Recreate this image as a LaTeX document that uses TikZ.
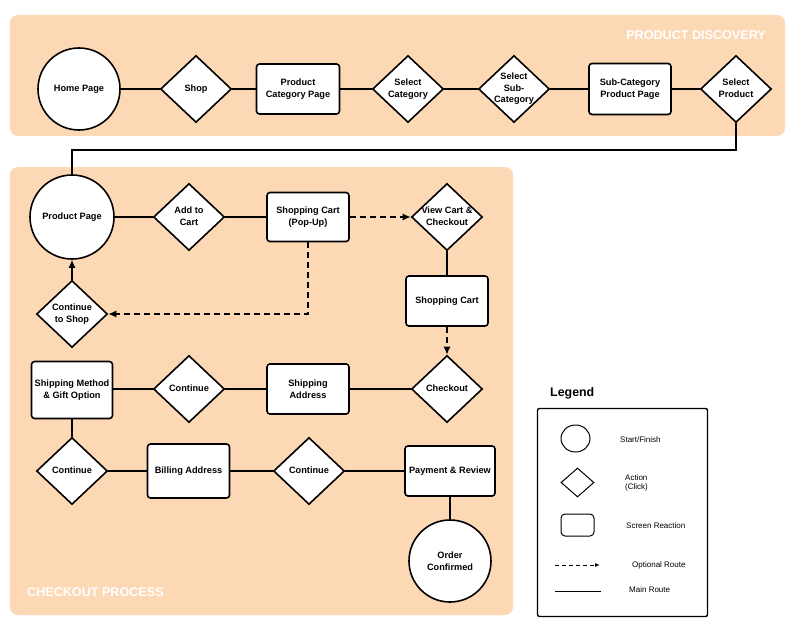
\documentclass[tikz,border=0pt]{standalone}
\usepackage{fontspec}
\setmainfont{Liberation Sans}
\usetikzlibrary{shapes.geometric,arrows.meta}
\definecolor{peach}{RGB}{253,216,181}
\newcommand\dt[1]{\makebox[0pt]{\raisebox{-0.25em}[0pt][0pt]{\begin{tabular}{@{}c@{}}#1\end{tabular}}}}
\tikzset{
  base/.style={draw, line width=1.6pt, fill=white, font=\bfseries\fontsize{9.2}{11.5}\selectfont, inner sep=0pt},
  startend/.style={base, circle, minimum size=82pt, align=center},
  act/.style={base, diamond, minimum width=71pt, minimum height=67pt},
  screen/.style={base, rectangle, rounded corners=3pt, align=center},
  mainroute/.style={line width=1.4pt},
  optroute/.style={line width=1.4pt, dash pattern=on 6pt off 4pt, -{Latex[length=8pt,width=7pt]}},
  arrowroute/.style={line width=1.4pt, -{Latex[length=8pt,width=7pt]}},
  band/.style={fill=peach, rounded corners=8pt},
  bandlabel/.style={text=white, font=\bfseries\fontsize{12.6}{14}\selectfont, inner sep=0pt},
  legshape/.style={draw, line width=1pt, inner sep=0pt},
  legtext/.style={font=\fontsize{8}{9.5}\selectfont, inner sep=0pt, align=left},
  legline/.style={line width=1pt}
}
\begin{document}
\begin{tikzpicture}[x=1pt,y=-1pt]
\useasboundingbox (0,0) rectangle (800,626);
% bands
\fill[band] (10,15) rectangle (785,136);
\fill[band] (10,167) rectangle (513,615);
\node[bandlabel, anchor=east] (pdlabel) at (766,35) {PRODUCT DISCOVERY};
\node[bandlabel, anchor=west] (cplabel) at (27,592) {CHECKOUT PROCESS};

% product discovery
\node[startend] (home) at (79,89) {Home Page};
\node[act] (shop) at (196,89) {\dt{Shop}};
\node[screen, minimum width=83pt, minimum height=50pt] (pcp) at (298,89) {Product\\Category Page};
\node[act] (selcat) at (408,89) {\dt{Select\\Category}};
\node[act] (selsub) at (514,89) {\dt{Select\\Sub-\\Category}};
\node[screen, minimum width=82pt, minimum height=51pt] (scpp) at (630,89) {Sub-Category\\Product Page};
\node[act] (selprod) at (736,89) {\dt{Select\\Product}};

% checkout
\node[startend, minimum size=84pt] (pp) at (72,217) {Product Page};
\node[act] (add) at (189,217) {\dt{Add to\\Cart}};
\node[screen, minimum width=82pt, minimum height=49pt] (spc) at (308,217) {Shopping Cart\\(Pop-Up)};
\node[act] (vcc) at (447,217) {\dt{View Cart \&\\Checkout}};
\node[screen, minimum width=82pt, minimum height=50pt] (sc) at (447,301) {Shopping Cart};
\node[act] (cts) at (72,314) {\dt{Continue\\to Shop}};
\node[act] (checkout) at (447,389) {\dt{Checkout}};
\node[screen, minimum width=82pt, minimum height=50pt] (sa) at (308,389) {Shipping\\Address};
\node[act] (cont1) at (189,389) {\dt{Continue}};
\node[screen, minimum width=81pt, minimum height=57pt] (smgo) at (72,390) {Shipping Method\\\& Gift Option};
\node[act] (cont2) at (72,471) {\dt{Continue}};
\node[screen, minimum width=82pt, minimum height=54pt] (ba) at (188.5,471) {Billing Address};
\node[act] (cont3) at (309,471) {\dt{Continue}};
\node[screen, minimum width=90pt, minimum height=50pt] (pr) at (450,471) {Payment \& Review};
\node[startend] (oc) at (450,561) {Order\\Confirmed};

% connectors top
\draw[mainroute] (home) -- (shop);
\draw[mainroute] (shop) -- (pcp);
\draw[mainroute] (pcp) -- (selcat);
\draw[mainroute] (selcat) -- (selsub);
\draw[mainroute] (selsub) -- (scpp);
\draw[mainroute] (scpp) -- (selprod);
\coordinate (turn) at (736,150);
\draw[mainroute] (selprod.south) -- (turn) -| (pp.north);

% connectors checkout
\draw[mainroute] (pp) -- (add);
\draw[mainroute] (add) -- (spc);
\draw[optroute] (spc) -- (vcc);
\draw[mainroute] (vcc) -- (sc);
\draw[optroute] (sc) -- (checkout);
\draw[optroute] (spc.south) |- (cts.east);
\draw[arrowroute] (cts.north) -- (pp.south);
\draw[mainroute] (checkout) -- (sa);
\draw[mainroute] (sa) -- (cont1);
\draw[mainroute] (cont1) -- (cont1 -| smgo.east);
\draw[mainroute] (smgo) -- (cont2);
\draw[mainroute] (cont2) -- (ba);
\draw[mainroute] (ba) -- (cont3);
\draw[mainroute] (cont3) -- (pr);
\draw[mainroute] (pr) -- (oc);

% legend
\node[anchor=west, inner sep=0pt, font=\bfseries\fontsize{12.4}{14}\selectfont] (legtitle) at (550,393) {Legend};
\node[draw, line width=1.4pt, rounded corners=2pt, minimum width=170pt, minimum height=208pt, inner sep=0pt] (legbox) at (622.5,512.5) {};
\node[legshape, ellipse, minimum width=29pt, minimum height=27pt] (lgcirc) at (575.5,438.5) {};
\node[legshape, diamond, minimum width=33pt, minimum height=29pt] (lgact) at (577.5,482.5) {};
\node[legshape, rectangle, rounded corners=4pt, minimum width=33pt, minimum height=22pt] (lgscr) at (577.5,525) {};
\coordinate (ol1) at (555,565);
\coordinate (ol2) at (600,565);
\coordinate (ml1) at (555,591);
\coordinate (ml2) at (601,591);
\draw[legline, dash pattern=on 4pt off 3pt, -{Latex[length=5pt,width=4pt]}] (ol1) -- (ol2);
\draw[legline] (ml1) -- (ml2);
\node[legtext, anchor=west] (t1) at (620,440) {Start/Finish};
\node[legtext, anchor=west] (t2) at (625,483) {Action\\(Click)};
\node[legtext, anchor=west] (t3) at (626,526) {Screen Reaction};
\node[legtext, anchor=west] (t4) at (632,565) {Optional Route};
\node[legtext, anchor=west] (t5) at (629,590) {Main Route};
\end{tikzpicture}
\end{document}
